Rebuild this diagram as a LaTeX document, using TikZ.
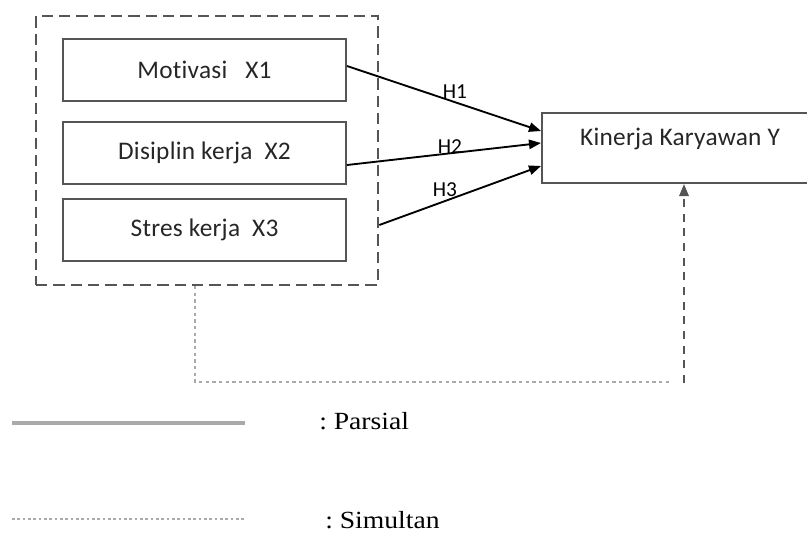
\documentclass[tikz,border=0pt]{standalone}
\usepackage{fontspec}
\setmainfont{Liberation Serif}
\newfontfamily\boxfont[LetterSpace=1,Ligatures=NoCommon]{Carlito}
\newfontfamily\hfont[Ligatures=NoCommon]{Carlito}
\newfontfamily\legfont[FakeStretch=1.12]{Liberation Serif}
\usetikzlibrary{arrows.meta,calc}
\definecolor{boxgray}{HTML}{555555}
\definecolor{lightg}{HTML}{AAAAAA}
\newlength{\unitpx}
\setlength{\unitpx}{0.75pt}
\tikzset{
  varbox/.style={draw=boxgray,line width=1.5pt,minimum width=283\unitpx,minimum height=62\unitpx,inner sep=0pt,font=\boxfont\fontsize{19}{22}\selectfont,text=black!85},
  grpbox/.style={draw=boxgray,line width=2pt,dash pattern=on 8.5pt off 4.5pt,minimum width=342\unitpx,minimum height=269\unitpx,inner sep=0pt},
  arr/.style={line width=1.4pt,-{Triangle[length=9pt,width=7pt]}},
  hlab/.style={font=\hfont\fontsize{16}{18}\selectfont,inner sep=0pt},
  simdot/.style={draw=lightg,line width=1.5pt,dash pattern=on 2.5pt off 2.5pt},
  simdash/.style={draw=boxgray,line width=1.6pt,dash pattern=on 6pt off 5pt},
  legtext/.style={font=\legfont\fontsize{18.5}{22}\selectfont,anchor=west,inner sep=0pt}
}
\begin{document}
\begin{tikzpicture}[x=0.75pt,y=-0.75pt]
\useasboundingbox (0,0) rectangle (807,536);
\clip (0,0) rectangle (807,536);
% group
\node[grpbox] (G) at (207,150.5) {};
\node[varbox] (X1) at (204.5,70) {Motivasi\ \ \ X1};
\node[varbox] (X2) at (204.5,153) {Disiplin kerja\ \ X2};
\node[varbox] (X3) at (204.5,229.5) {Stres kerja\ \ X3};
% dependent
\node[draw=boxgray,line width=1.5pt,minimum width=276\unitpx,minimum height=70\unitpx,inner sep=0pt] (Y) at (680,148) {};
\node[font=\boxfont\fontsize{19}{22}\selectfont,text=black!85,inner sep=0pt] (Yt) at (680,139) {Kinerja Karyawan Y};
% arrows
\coordinate (s1) at ($(X1.east)+(0,-4)$);
\coordinate (s2) at ($(X2.east)+(0,12)$);
\coordinate (s3) at (G.east |- 0,225);
\coordinate (e1) at (Y.west |- 0,131);
\coordinate (e2) at (Y.west |- 0,143);
\coordinate (e3) at (Y.west |- 0,166);
\draw[arr] (s1) -- (e1);
\draw[arr] (s2) -- (e2);
\draw[arr] (s3) -- (e3);
\node[hlab] at (455,92) {H1};
\node[hlab] at (450,147) {H2};
\node[hlab] at (445,190) {H3};
% simultaneous
\coordinate (d0) at (195,286);
\coordinate (d1) at (195,382);
\coordinate (d2) at (672,382);
\coordinate (d3) at (684,383);
\draw[simdot] (d0) -- (d1) -- (d2);
\draw[simdash,-{Triangle[length=9pt,width=7pt]}] (d3) -- (d3 |- Y.south);
% legend
\coordinate (l1a) at (12,423);
\coordinate (l1b) at (245,423);
\draw[lightg,line width=2.4pt] (l1a) -- (l1b);
\node[legtext] (Lp) at (319,421) {:\ Parsial};
\coordinate (l2a) at (12,519);
\coordinate (l2b) at (245,519);
\draw[simdot,line width=1.2pt,dash pattern=on 2pt off 2pt] (l2a) -- (l2b);
\node[legtext] (Ls) at (325,520) {:\ Simultan};
\end{tikzpicture}
\end{document}
